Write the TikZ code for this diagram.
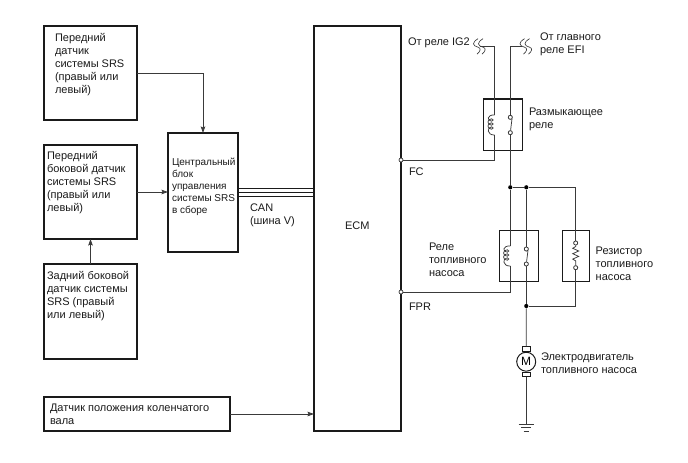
\documentclass[tikz,border=0pt]{standalone}
\usepackage{fontspec}
\setmainfont{Liberation Sans}
\usetikzlibrary{arrows.meta}
\definecolor{ink}{HTML}{1A1A1A}
\definecolor{wirec}{HTML}{3A3A3A}
\newcommand{\tl}{\rule{0pt}{8pt}}
\tikzset{
  x=1pt,y=-1pt,
  boxn/.style={draw=ink,line width=1.1pt,rectangle,anchor=north west,inner sep=0pt,outer sep=0pt},
  relaybox/.style={boxn},
  wire/.style={draw=wirec,line width=0.75pt},
  arr/.style={wire,-{Stealth[length=6.5pt,width=4.5pt,inset=1pt]}},
  txt/.style={anchor=north west,inner sep=0pt,outer sep=0pt,align=left,text=ink,
    font=\fontsize{11}{13}\selectfont},
  txtsmall/.style={txt,font=\fontsize{10}{12}\selectfont},
  pinc/.style={circle,draw=wirec,line width=0.7pt,fill=white,inner sep=0pt,minimum size=4pt},
  dotc/.style={circle,fill=black,inner sep=0pt,minimum size=4.2pt},
  coilsym/.pic={
    \draw[wire] (0,0) .. controls (-8,-0.5) and (-8,6) .. (-3,6.2)
      .. controls (-1,6.2) and (-1,3.8) .. (-3,3.8)
      .. controls (-8,3.8) and (-8,10.2) .. (-3,10.2)
      .. controls (-1,10.2) and (-1,7.8) .. (-3,7.8)
      .. controls (-8,7.8) and (-8,14.2) .. (-3,14.2)
      .. controls (-1,14.2) and (-1,11.8) .. (-3,11.8)
      .. controls (-8,11.8) and (-8,20.5) .. (0,20);
  },
  squig/.pic={
    \draw[wire,line width=0.65pt] (0,-8) .. controls (-6.5,-4) and (-5.5,-1) .. (0,0.5) .. controls (3.5,1.5) and (2.5,4.5) .. (-1,7.5);
    \draw[wire,line width=0.65pt] (5,-8) .. controls (-1.5,-4) and (-0.5,-1) .. (5,0.5) .. controls (8.5,1.5) and (7.5,4.5) .. (4,7.5);
  }
}
\begin{document}
\begin{tikzpicture}
\useasboundingbox (0,0) rectangle (688,463);
% boxes
\node[boxn,minimum width=93pt,minimum height=94pt] (b1) at (44,26) {};
\node[boxn,minimum width=93pt,minimum height=94pt] (b2) at (44,145) {};
\node[boxn,minimum width=93pt,minimum height=95pt] (b3) at (44,264) {};
\node[boxn,minimum width=70pt,minimum height=119pt] (cu) at (168,133) {};
\node[boxn,minimum width=186pt,minimum height=34pt] (b5) at (44,397) {};
\node[boxn,minimum width=87pt,minimum height=405pt] (ecm) at (314,26) {};
\node[relaybox,minimum width=39pt,minimum height=51.5pt] (r1) at (483.7,99) {};
\node[relaybox,minimum width=39pt,minimum height=51.5pt] (r2) at (499.5,230.3) {};
\node[relaybox,minimum width=26.7pt,minimum height=51.5pt] (rs) at (562.4,230.3) {};
% texts
\node[txt] (t1) at (55,33) {\tl Передний\\датчик\\системы SRS\\(правый или\\левый)};
\node[txt] (t2) at (47,151) {\tl Передний\\боковой датчик\\системы SRS\\(правый или\\левый)};
\node[txt] (t3) at (47,271) {\tl Задний боковой\\датчик системы\\SRS (правый\\или левый)};
\node[txtsmall] (t4) at (172,157) {\tl Центральный\\блок\\управления\\системы SRS\\в сборе};
\node[txt] (t5) at (50,403.7) {\tl Датчик положения коленчатого\\вала};
\node[txt] (can) at (250,203) {\tl CAN\\(шина V)};
\node[txt] (ecmt) at (345,221) {\tl ECM};
\node[txt] (fct) at (409,167) {\tl FC};
\node[txt] (fprt) at (409,302) {\tl FPR};
\node[txt] (ig2) at (408,37.7) {\tl От реле IG2};
\node[txt] (efi) at (540,32) {\tl От главного\\реле EFI};
\node[txt] (rz) at (529,107.7) {\tl Размыкающее\\реле};
\node[txt] (rt) at (429,242.7) {\tl Реле\\топливного\\насоса};
\node[txt] (rst) at (595.7,246) {\tl Резистор\\топливного\\насоса};
\node[txt] (mt) at (541,352.7) {\tl Электродвигатель\\топливного насоса};
% coordinates
\coordinate (ig) at (480,46.7);
\coordinate (ef) at (522,46.7);
\coordinate (fc) at (ecm.east |- 0,160);
\coordinate (fpr) at (ecm.east |- 0,292);
\coordinate (c1a) at (494.7,115);
\coordinate (c1b) at (494.7,135);
\coordinate (c2a) at (510.3,246);
\coordinate (c2b) at (510.3,266);
\node[pinc] (s1a) at (510.3,117.3) {};
\node[pinc] (s1b) at (510.3,132.7) {};
\node[pinc] (s2a) at (526.3,249) {};
\node[pinc] (s2b) at (526.3,264) {};
\node[pinc] (ra) at (575.7,243) {};
\node[pinc] (rb) at (575.7,267.7) {};
\node[dotc] (j1) at (510.3,187.3) {};
\node[dotc] (j2) at (526.3,187.3) {};
\node[dotc] (j3) at (526.3,306) {};
\coordinate (jr) at (575.7,187.3);
\coordinate (jb) at (575.7,306);
\node[circle,draw=ink,line width=1pt,fill=white,minimum size=19pt,inner sep=0pt,font=\fontsize{12}{12}\selectfont] (m) at (526.2,361.7) {M};
\node[rectangle,draw=ink,line width=0.9pt,fill=white,minimum width=8pt,minimum height=4.5pt,inner sep=0pt,anchor=south] (mt1) at (m.north) {};
\node[rectangle,draw=ink,line width=0.9pt,fill=white,minimum width=8pt,minimum height=4.5pt,inner sep=0pt,anchor=north] (mb1) at (m.south) {};
\coordinate (g) at (526.2,424);
% arrows
\draw[arr] (b1.east) -| (cu.north);
\draw[arr] (b2.east) -- (cu.west |- b2.east);
\draw[arr] (b3.north) -- (b2.south);
\draw[arr] (b5.east) -- (ecm.west |- b5.east);
% CAN bus
\foreach \yy in {188.3,192.4,196.7}
  \draw[draw=ink,line width=1pt] (cu.east |- 0,\yy) -- (ecm.west |- 0,\yy);
% upper relay
\draw[wire] (ig) -| (c1a);
\draw[wire] (c1b) |- (fc);
\draw[wire] (ef) -| (s1a);
\draw[wire] (s1b) -- (j1);
\draw[wire] (s1b) -- (s1a.south east);
\pic at (c1a) {coilsym};
\pic at (478,46.7) {squig};
\pic at (524.5,46.7) {squig};
% lower
\draw[wire] (j1) -- (j2) -- (jr) -- (ra);
\draw[wire] (j1) -- (c2a);
\draw[wire] (c2b) |- (fpr);
\pic at (c2a) {coilsym};
\draw[wire] (j2) -- (s2a);
\draw[wire] (s2b) -- (j3);
\draw[wire] (s2b) -- (s2a.south east);
\draw[wire] (rb) -- (jb) -- (j3);
\draw[wire] (j3) -- (mt1.north);
\draw[wire] (mb1.south) -- (g);
% resistor
\draw[wire] (ra) -- ++(0,3.5) -- ++(-3,1.8) -- ++(6,2.7) -- ++(-6,2.7) -- ++(6,2.7) -- ++(-6,2.7) -- ++(3,1.8) -- (rb);
% pins on top
\node[pinc] at (s1a) {};
\node[pinc] at (s1b) {};
\node[pinc] at (s2a) {};
\node[pinc] at (s2b) {};
\node[pinc] at (ra) {};
\node[pinc] at (rb) {};
\node[pinc] at (fc) {};
\node[pinc] at (fpr) {};
% ground
\draw[wire] (g) ++(-7.5,0) -- ++(15,0);
\draw[wire] (g) ++(-5,3.5) -- ++(10,0);
\draw[wire] (g) ++(-2.5,7) -- ++(5,0);
\end{tikzpicture}
\end{document}
